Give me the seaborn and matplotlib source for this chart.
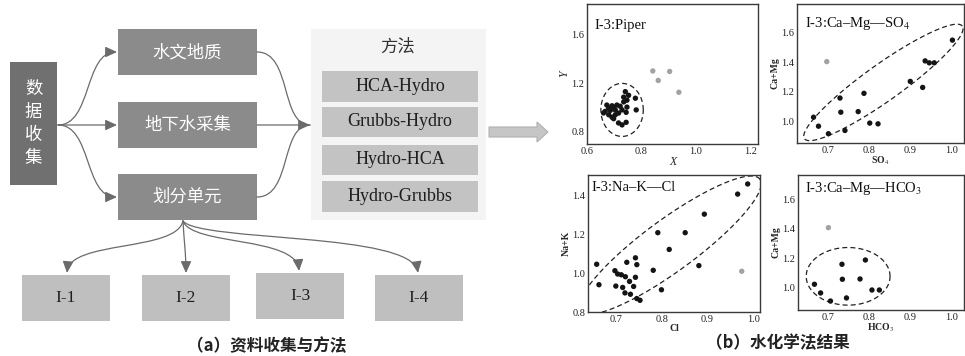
import numpy as np
import pandas as pd
import seaborn as sns
import matplotlib.pyplot as plt
import matplotlib.patches as mpatches
from matplotlib.path import Path

W, H = 965, 356

# ---------------- data ----------------
# I-3 Piper
piperX = [0.741, 0.753, 0.735, 0.778, 0.747, 0.673, 0.692, 0.710, 0.722, 0.747,
          0.667, 0.686, 0.704, 0.729, 0.781, 0.680, 0.692, 0.704, 0.716, 0.744,
          0.698, 0.716, 0.729, 0.744, 0.661, 0.680, 0.698, 0.735]
piperY = [1.130, 1.100, 1.085, 1.076, 1.060, 1.020, 1.014, 1.020, 1.010, 1.003,
          0.968, 0.976, 0.980, 0.980, 0.980, 0.940, 0.920, 0.940, 0.954, 0.960,
          0.908, 0.873, 0.857, 0.878, 0.955, 0.995, 1.003, 1.046]
piperOutX = [0.842, 0.862, 0.904, 0.938]
piperOutY = [1.300, 1.222, 1.296, 1.125]

# I-3 Ca-Mg vs SO4
so4X = [0.666, 0.678, 0.702, 0.730, 0.732, 0.742, 0.774, 0.788, 0.802, 0.822,
        0.900, 0.930, 0.936, 0.946, 0.958, 1.002]
so4Y = [1.027, 0.966, 0.915, 1.157, 1.061, 0.937, 1.065, 1.189, 0.987, 0.982,
        1.270, 1.229, 1.409, 1.396, 1.396, 1.550]
so4OutX = [0.698]
so4OutY = [1.404]

# I-3 Na-K vs Cl
clX = [0.988, 0.966, 0.893, 0.851, 0.791, 0.816, 0.881, 0.781, 0.799, 0.657,
       0.723, 0.742, 0.745, 0.697, 0.703, 0.711, 0.720, 0.742, 0.729, 0.662,
       0.699, 0.714, 0.738, 0.719, 0.731, 0.745, 0.752]
clY = [1.457, 1.405, 1.302, 1.207, 1.207, 1.121, 1.038, 1.014, 0.914, 1.045,
       1.055, 1.078, 1.043, 1.012, 0.995, 0.991, 0.981, 0.978, 0.957, 0.940,
       0.933, 0.926, 0.931, 0.898, 0.891, 0.869, 0.860]
clOutX = [0.975]
clOutY = [1.009]

# I-3 Ca-Mg vs HCO3
hco3X = [0.666, 0.681, 0.705, 0.733, 0.734, 0.744, 0.777, 0.790, 0.806, 0.824]
hco3Y = [1.023, 0.964, 0.909, 1.159, 1.057, 0.930, 1.059, 1.188, 0.984, 0.984]
hco3OutX = [0.700]
hco3OutY = [1.408]

stepLabels = ["水文地质", "地下水采集", "划分单元"]
methodLabels = ["HCA-Hydro", "Grubbs-Hydro", "Hydro-HCA", "Hydro-Grubbs"]
unitLabels = ["I-1", "I-2", "I-3", "I-4"]

CJK = ["Noto Sans CJK SC", "DejaVu Sans"]
SERIF = ["Liberation Serif", "Noto Sans CJK SC"]
ARROW_C = "#6b6b6b"


def px_axes(fig, x0, y0, x1, y1):
    return fig.add_axes([x0 / W, 1 - y1 / H, (x1 - x0) / W, (y1 - y0) / H])


def box(ax, x0, y0, x1, y1, fc, text=None, tc="white", size=12.5, family=CJK, **kw):
    ax.add_patch(mpatches.Rectangle((x0, y0), x1 - x0, y1 - y0, fc=fc, ec="none"))
    if text is not None:
        ax.text((x0 + x1) / 2, (y0 + y1) / 2, text, color=tc, fontsize=size,
                family=family, ha="center", va="center", **kw)


def curve(ax, p0, p1, p2, p3, head=True):
    path = Path([p0, p1, p2, p3], [Path.MOVETO, Path.CURVE4, Path.CURVE4, Path.CURVE4])
    style = "-|>,head_length=0.7,head_width=0.32" if head else "-"
    ax.add_patch(mpatches.FancyArrowPatch(path=path, arrowstyle=style, mutation_scale=10,
                                          color=ARROW_C, lw=0.9))


def flowchart(ax):
    # data collection column
    box(ax, 10, 62, 57, 185, "#707070", "数\n据\n收\n集", linespacing=1.35)
    ys = [52, 125, 197]
    for lab, yc in zip(stepLabels, ys):
        box(ax, 118, yc - 23, 257, yc + 23, "#8b8b8b", lab)
        curve(ax, (58, 125), (92, 125), (84, yc), (117, yc))
        curve(ax, (257, yc), (292, yc), (280, 125), (310, 125), head=(yc == 125))
    # methods panel
    box(ax, 311, 29, 486, 220, "#f4f4f4")
    ax.text(398, 47, "方法", fontsize=12.5, family=CJK, color="#333333", ha="center", va="center")
    for lab, (y0, y1) in zip(methodLabels, [(71, 102), (107, 137), (145, 175), (181, 212)]):
        box(ax, 322, y0, 478, y1, "#c3c3c3", lab, tc="#1e1e1e", size=13, family=SERIF)
    # units
    tops = [275, 275, 273, 275]
    lefts = [22, 142, 256, 375]
    for lab, x0, t in zip(unitLabels, lefts, tops):
        box(ax, x0, t, x0 + 88, t + 46, "#bfbfbf", lab, tc="#1e1e1e", size=12.5, family=SERIF)
    start = (183, 221)
    curve(ax, start, (176, 252), (70, 240), (67, 273))
    curve(ax, start, (184, 240), (186, 255), (186, 273))
    curve(ax, start, (192, 246), (296, 236), (299, 271))
    curve(ax, start, (200, 242), (412, 232), (418, 273))
    # big gray arrow
    ax.add_patch(mpatches.FancyArrow(489, 132, 59, 0, width=10, head_width=20, head_length=11,
                                     length_includes_head=True, fc="#c6c6c6", ec="#b0b0b0", lw=0.8))
    ax.text(267, 346, "（a）资料收集与方法", fontsize=12, family=CJK, weight="bold",
            color="#222222", ha="center", va="center")
    ax.text(778, 343, "（b）水化学法结果", fontsize=12, family=CJK, weight="bold",
            color="#222222", ha="center", va="center")


def scatter_panel(ax, xin, yin, xout, yout, xlim, ylim, xt, yt, title, xlabel, ylabel,
                  ell_c, ell_u, ell_v, tpos, italic=False):
    df = pd.DataFrame({"x": list(xin) + list(xout), "y": list(yin) + list(yout),
                       "grp": ["in"] * len(xin) + ["out"] * len(xout)})
    sns.scatterplot(data=df, x="x", y="y", hue="grp", palette={"in": "#141414", "out": "#a2a2a2"},
                    s=15, linewidth=0, legend=False, ax=ax, zorder=3)
    # dashed ellipse around the main group
    t = np.linspace(0, 2 * np.pi, 200)
    ex = ell_c[0] + ell_u[0] * np.cos(t) + ell_v[0] * np.sin(t)
    ey = ell_c[1] + ell_u[1] * np.cos(t) + ell_v[1] * np.sin(t)
    ax.plot(ex, ey, ls=(0, (4, 2.5)), color="#222222", lw=0.9)
    ax.set_xlim(xlim)
    ax.set_ylim(ylim)
    ax.set_xticks(xt)
    ax.set_yticks(yt)
    ax.set_xticklabels([f"{v:.1f}" for v in xt])
    ax.set_yticklabels([f"{v:.1f}" for v in yt])
    ax.tick_params(direction="in", length=3, width=0.8, labelsize=7.5, pad=2, colors="#222222")
    for sp in ax.spines.values():
        sp.set_visible(True)
        sp.set_color("#3a3a3a")
        sp.set_linewidth(1.0)
    if italic:
        ax.set_xlabel(xlabel, fontsize=8.5, style="italic", labelpad=0)
        ax.set_ylabel(ylabel, fontsize=8.5, style="italic", labelpad=1)
    else:
        ax.set_xlabel(xlabel, fontsize=7, weight="bold", labelpad=0)
        ax.set_ylabel(ylabel, fontsize=7, weight="bold", labelpad=1)
    ax.text(tpos[0], tpos[1], title, transform=ax.transAxes, fontsize=10.5,
            ha="left", va="center", color="#111111")
    ax.set_facecolor("white")


def main():
    sns.set_style("white")
    plt.rcParams["font.family"] = SERIF
    plt.rcParams["mathtext.fontset"] = "stix"
    fig = plt.figure(figsize=(W / 100, H / 100), dpi=100)
    ax0 = fig.add_axes([0, 0, 1, 1])
    ax0.set_xlim(0, W)
    ax0.set_ylim(H, 0)
    ax0.axis("off")
    flowchart(ax0)

    ax1 = px_axes(fig, 587, 4, 758, 144)
    scatter_panel(ax1, piperX, piperY, piperOutX, piperOutY, (0.6, 1.229), (0.70, 1.85),
                  [0.6, 0.8, 1.0, 1.2], [0.8, 1.2, 1.6], "I-3:Piper", "X", "Y",
                  (0.729, 0.98), (0.078, 0.0), (0.0, 0.218), (0.045, 0.85), italic=True)
    ax2 = px_axes(fig, 797, 4, 964, 143)
    scatter_panel(ax2, so4X, so4Y, so4OutX, so4OutY, (0.626, 1.03), (0.852, 1.795),
                  [0.7, 0.8, 0.9, 1.0], [1.0, 1.2, 1.4, 1.6], "I-3:Ca–Mg—SO$_4$", "SO$_4$", "Ca+Mg",
                  (0.835, 1.263), (0.191, 0.382), (-0.0256, 0.101), (0.045, 0.86))
    ax3 = px_axes(fig, 588, 175, 760, 312)
    scatter_panel(ax3, clX, clY, clOutX, clOutY, (0.638, 1.015), (0.80, 1.503),
                  [0.7, 0.8, 0.9, 1.0], [0.8, 1.0, 1.2, 1.4], "I-3:Na–K—Cl", "Cl", "Na+K",
                  (0.818, 1.143), (0.197, 0.338), (-0.033, 0.108), (0.02, 0.91))
    ax4 = px_axes(fig, 798, 175, 964, 310)
    scatter_panel(ax4, hco3X, hco3Y, hco3OutX, hco3OutY, (0.626, 1.03), (0.848, 1.766),
                  [0.7, 0.8, 0.9, 1.0], [1.0, 1.2, 1.4, 1.6], "I-3:Ca–Mg—HCO$_3$", "HCO$_3$", "Ca+Mg",
                  (0.748, 1.077), (0.102, 0.0), (0.0, 0.196), (0.045, 0.90))

    fig.savefig("out.png", dpi=100)


if __name__ == "__main__":
    main()
